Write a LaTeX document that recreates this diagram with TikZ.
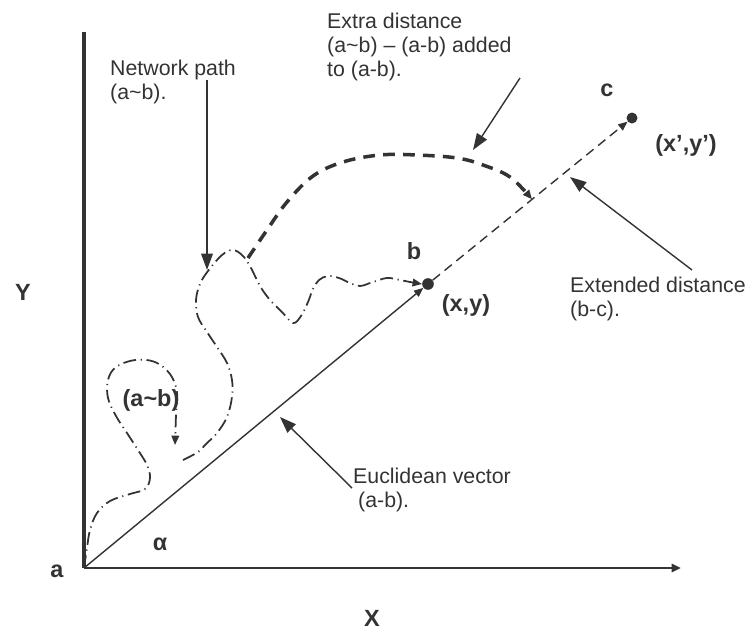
\documentclass[tikz,border=0pt]{standalone}
\usepackage{fontspec}
\setmainfont{Liberation Sans}
\usetikzlibrary{arrows.meta,calc}
\definecolor{c333333}{RGB}{51,51,51}
\tikzset{
  annot/.style={text=c333333,font=\fontsize{18.2}{20.4}\selectfont,align=left,anchor=north west,inner sep=0pt},
  boldlbl/.style={text=c333333,font=\fontsize{20}{22}\selectfont\bfseries,inner sep=0pt},
  pointer/.style={draw=c333333,line width=1.2pt,-{Triangle[length=14pt,width=10pt]}},
  pointdot/.style={circle,fill=c333333,inner sep=0pt,minimum size=0.35cm},
  smalltip/.style={-{Triangle[length=8pt,width=6.5pt]}},
  netpath/.style={draw=c333333,line width=1.5pt,dash pattern=on 11pt off 4pt on 1pt off 4pt},
  extrapath/.style={draw=c333333,line width=3pt,dash pattern=on 10pt off 7pt},
  extpath/.style={draw=c333333,line width=1.2pt,dash pattern=on 8pt off 5pt},
}

\begin{document}
\begin{tikzpicture}[x=0.03cm, y=-0.03cm]
  \useasboundingbox (0,0) rectangle (749,630);

  % axes
  \coordinate (a) at (84,568);
  \coordinate (ytop) at (84,32);
  \coordinate (xend) at (681,568);
  \draw[c333333,line width=2.6pt] (ytop) -- (a);
  \draw[c333333,line width=2pt,-{Triangle[length=8pt,width=7pt]}] (a) -- (xend);

  \node[boldlbl] (lblY) at (23,292) {Y};
  \node[boldlbl] (lblX) at (372,618) {X};
  \node[boldlbl] (lbla) at (57,571) {a};
  \node[boldlbl] (lblalpha) at (160,544) {α};

  % points b and c
  \node[pointdot] (bdot) at (428,284) {};
  \node[pointdot,minimum size=0.33cm] (cdot) at (632,118) {};
  \node[boldlbl] (lblb) at (414,251) {b};
  \node[boldlbl] (lblc) at (607,90) {c};
  \node[boldlbl] (lblxy) at (466,305) {(x,y)};
  \node[boldlbl] (lblxy2) at (686,145) {(x’,y’)};

  % euclidean vector and extension
  \draw[c333333,line width=1.2pt,smalltip] (a) -- (bdot);
  \draw[extpath,smalltip] (bdot) -- (cdot);
  \coordinate (mid) at ($(bdot)!0.51!(cdot)$);

  % network path (a~b)
  \draw[netpath,smalltip] plot[smooth,tension=0.6] coordinates {(a) (87,548) (90,530) (97,513) (110,501) (130,494) (145,489) (150,478) (147,465) (138,450) (127,433) (116,416) (108,398) (108,380) (116,367) (135,360) (155,362) (170,374) (177,392) (176,415) (175,445)};
  \draw[netpath,smalltip] plot[smooth,tension=0.6] coordinates {(183,460) (198,452) (206,444) (217,433) (227,417) (232,397) (232,380) (227,363) (217,347) (207,332) (198,317) (196,300) (200,284) (208,271) (222,255) (233,250) (243,256) (251,268) (260,286) (270,300) (282,312) (293,323) (301,316) (308,302) (313,289) (319,280) (328,276) (339,278) (350,283) (360,286) (373,282) (387,278) (400,280) (410,282) (bdot.west)};
  \node[boldlbl] (lblab) at (151,400) {(a\textasciitilde b)};

  % extra distance
  \draw[extrapath,smalltip] plot[smooth,tension=0.6] coordinates {(248,258) (267,230) (287,202) (313,176) (343,162) (380,155) (417,155) (457,158) (483,165) (510,177) (mid)};

  % labels and pointers
  \node[annot] (lblnet) at (110,60) {Network path\\(a\textasciitilde b).};
  \coordinate (netfrom) at (207,80);
  \coordinate (netto) at (207,270);
  \draw[pointer] (netfrom) -- (netto);

  \node[annot] (lblextra) at (327,13) {Extra distance\\(a\textasciitilde b) – (a-b) added\\to (a-b).};
  \coordinate (extrafrom) at (520,78);
  \coordinate (extrato) at (473,150);
  \draw[pointer] (extrafrom) -- (extrato);

  \node[annot] (lblext) at (570,277) {Extended distance\\(b-c).};
  \coordinate (extfrom) at (692,270);
  \coordinate (extto) at (570,177);
  \draw[pointer] (extfrom) -- (extto);

  \node[annot] (lbleucl) at (353,468) {Euclidean vector\\\hspace{0.15cm}(a-b).};
  \coordinate (euclfrom) at (352,488);
  \coordinate (euclto) at (280,417);
  \draw[pointer] (euclfrom) -- (euclto);
\end{tikzpicture}
\end{document}
